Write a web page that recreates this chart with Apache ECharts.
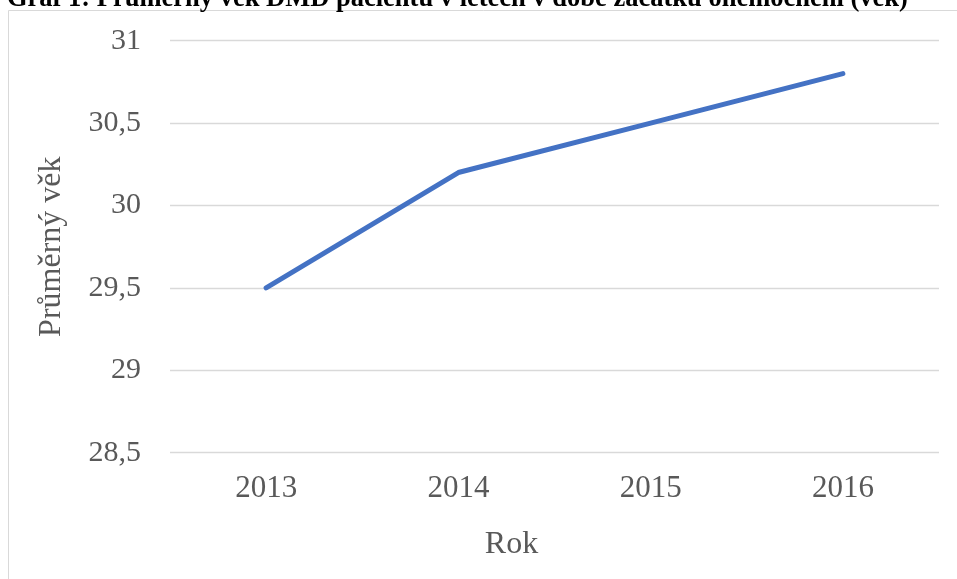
<!DOCTYPE html>
<html>
<head>
<meta charset="utf-8">
<script src="https://cdn.jsdelivr.net/npm/echarts@6/dist/echarts.min.js"></script>
<style>html,body{margin:0;padding:0;background:#fff;}#c{width:957px;height:579px;}</style>
</head>
<body>
<div id="c"></div>
<script>
var titleText = 'Graf 1: Průměrný věk DMD pacientů v letech v době začátku onemocnění (věk)';
var categories = ['2013', '2014', '2015', '2016'];
var values = [29.5, 30.2, 30.5, 30.8];
var yMin = 28.5, yMax = 31, yStep = 0.5;
var xName = 'Rok';
var yName = 'Průměrný věk';

var serif = '"Liberation Serif", "Times New Roman", serif';
var chart = echarts.init(document.getElementById('c'));
chart.setOption({
  animation: false,
  backgroundColor: '#fff',
  graphic: [
    { type: 'rect', shape: { x: 8.5, y: 10.5, width: 1000, height: 1000 }, style: { fill: 'none', stroke: '#d9d9d9', lineWidth: 1 }, silent: true },
    { type: 'text', x: 7, y: 13, style: { text: titleText, font: 'bold 26.5px ' + serif, fill: '#000', verticalAlign: 'bottom', align: 'left' }, silent: true }
  ],
  grid: { left: 170, right: 18, top: 40.7, bottom: 126.3, containLabel: false },
  xAxis: {
    type: 'category', data: categories, boundaryGap: true,
    name: xName, nameLocation: 'middle', nameGap: 76,
    nameTextStyle: { fontFamily: serif, fontSize: 32, color: '#595959', padding: [0, 86, 0, 0] },
    axisLine: { show: false }, axisTick: { show: false },
    axisLabel: { fontFamily: serif, fontSize: 31, color: '#595959', margin: 21 }
  },
  yAxis: {
    type: 'value', min: yMin, max: yMax, interval: yStep,
    name: yName, nameLocation: 'middle', nameGap: 102, nameRotate: 90,
    nameTextStyle: { fontFamily: serif, fontSize: 32, color: '#595959' },
    axisLine: { show: false }, axisTick: { show: false },
    splitLine: { lineStyle: { color: '#d9d9d9', width: 1.3 } },
    axisLabel: { fontFamily: serif, fontSize: 30, color: '#595959', margin: 29,
      formatter: function (v) { return String(+v.toFixed(1)).replace('.', ','); } }
  },
  series: [{
    type: 'line', data: values, showSymbol: false, symbol: 'none',
    lineStyle: { color: '#4472C4', width: 5, cap: 'round', join: 'round' }
  }]
});
</script>
</body>
</html>
